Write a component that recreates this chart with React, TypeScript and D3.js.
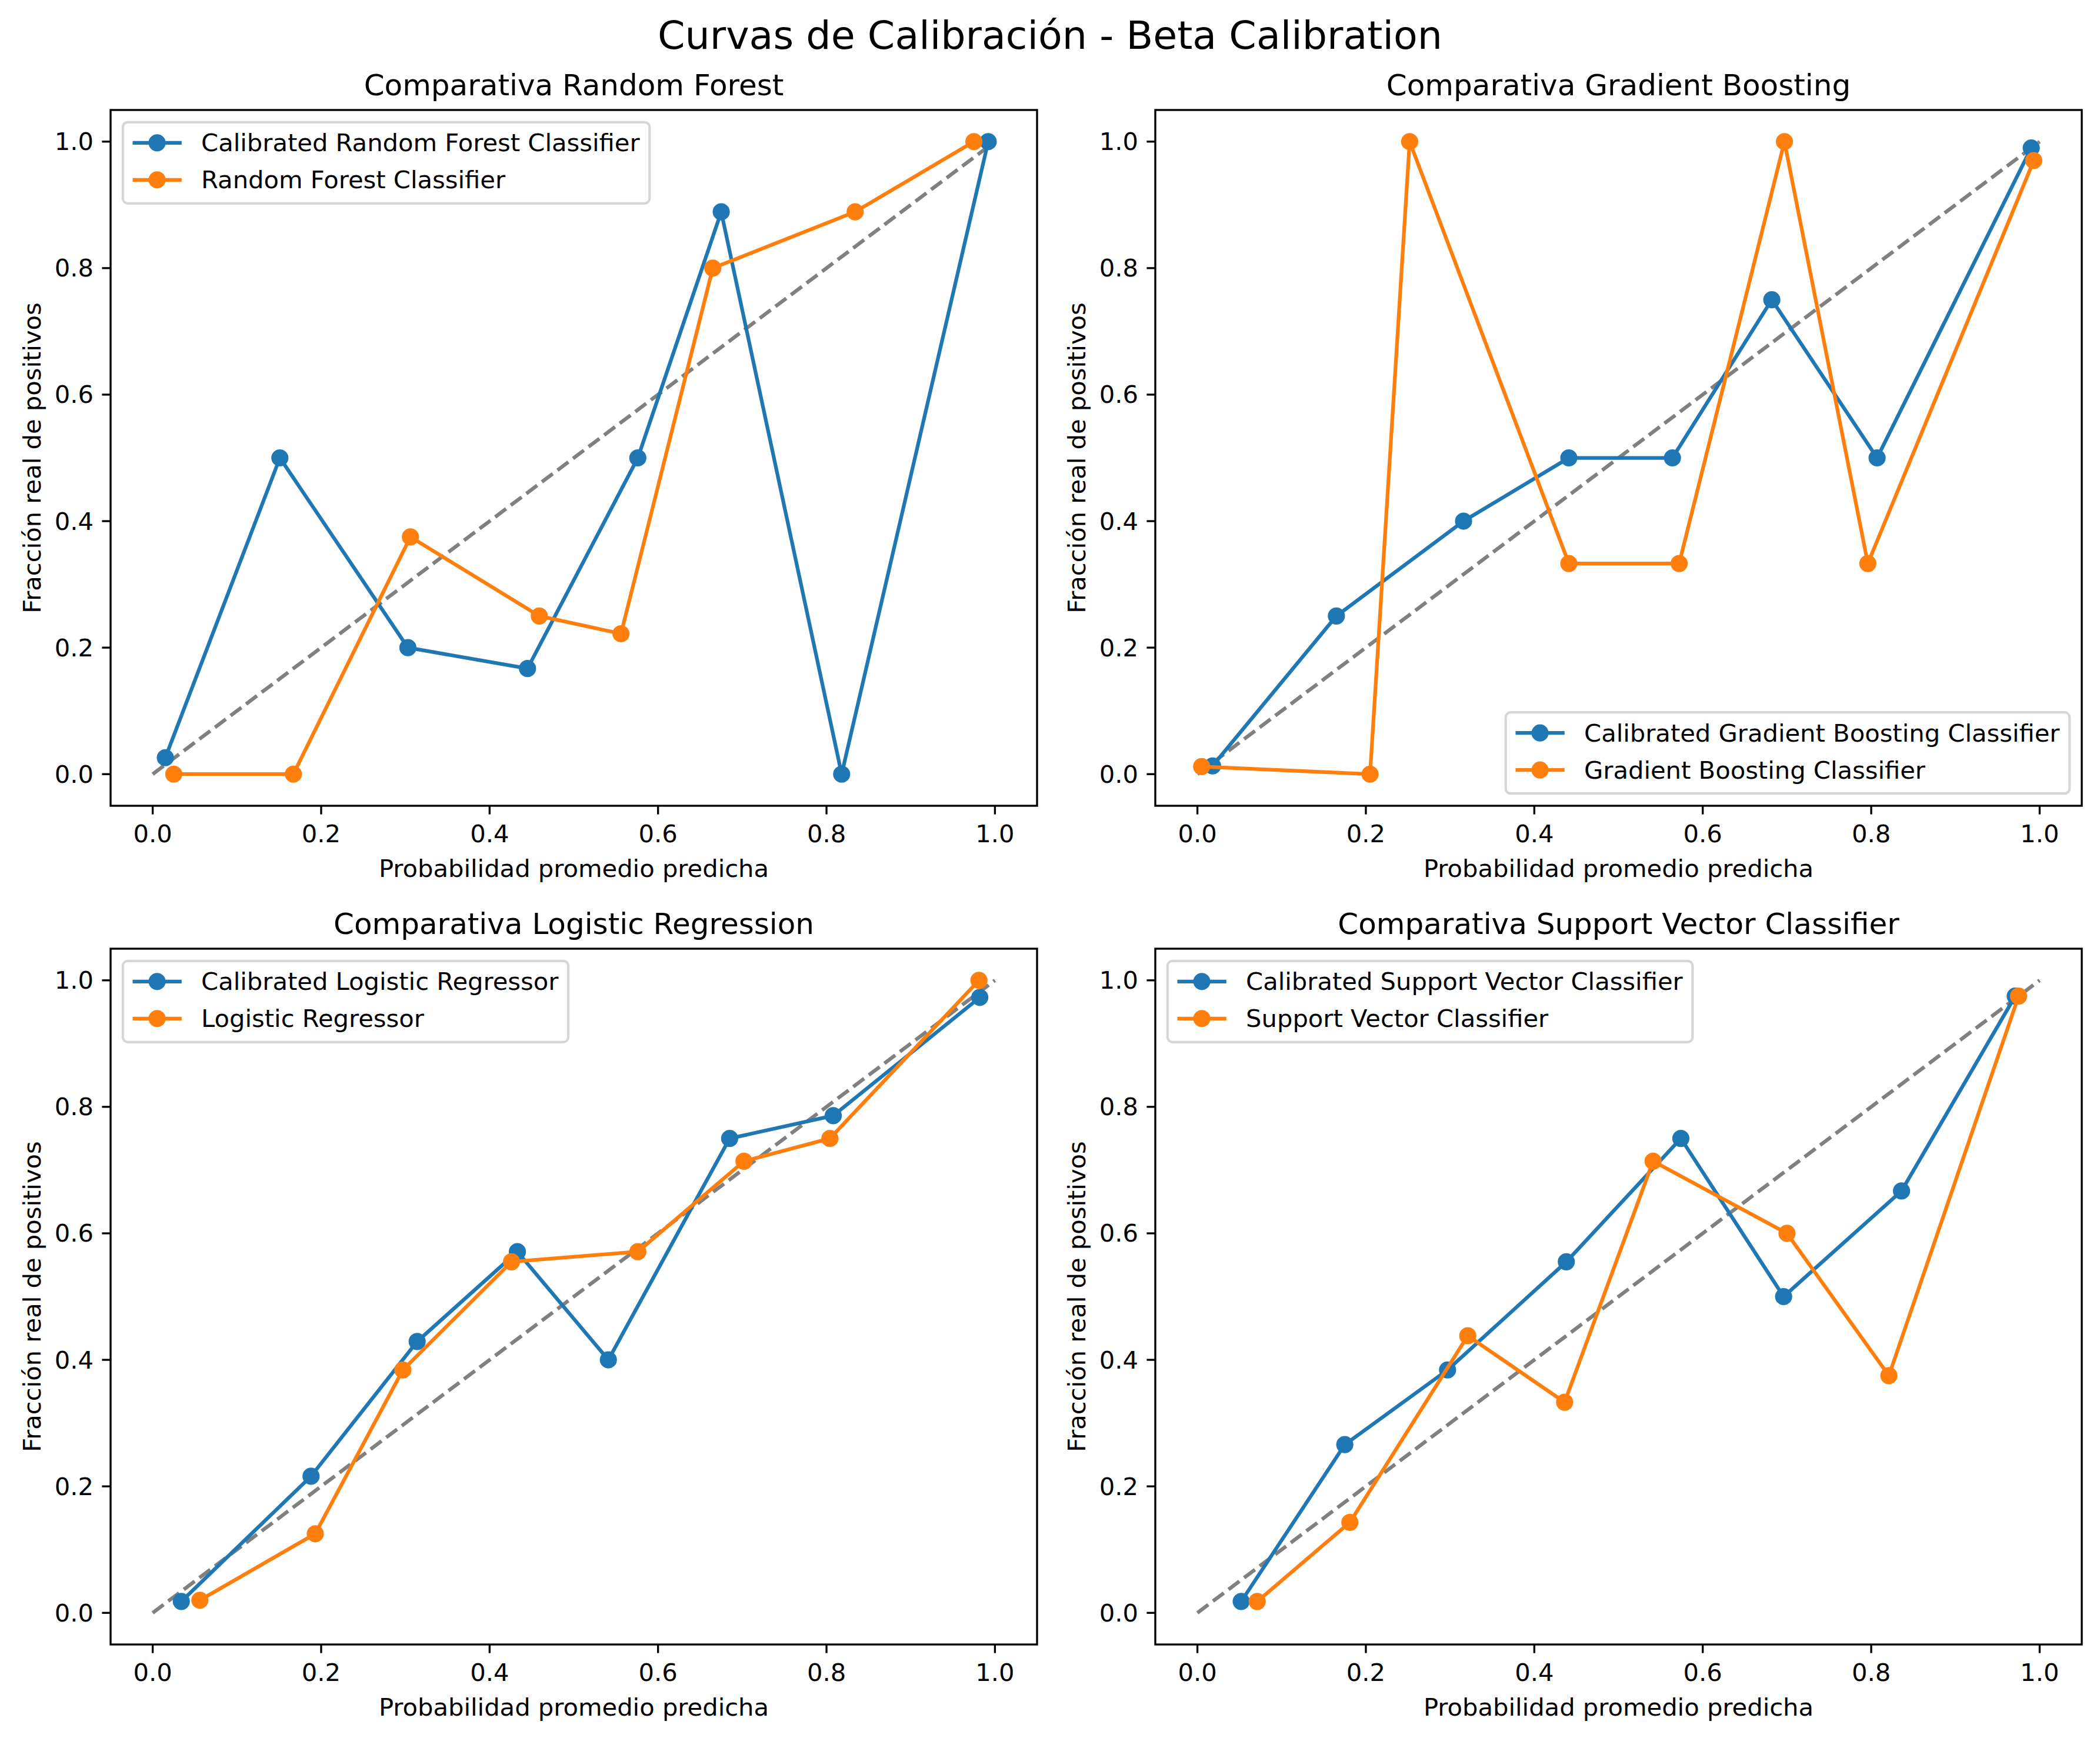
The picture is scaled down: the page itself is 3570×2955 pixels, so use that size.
import React from 'react';
import * as d3 from 'd3';

const suptitle = 'Curvas de Calibración - Beta Calibration';
const xLabel = 'Probabilidad promedio predicha';
const yLabel = 'Fracción real de positivos';
const tickValues = [0, 0.2, 0.4, 0.6, 0.8, 1.0];

const panelTitles = [
  'Comparativa Random Forest',
  'Comparativa Gradient Boosting',
  'Comparativa Logistic Regression',
  'Comparativa Support Vector Classifier',
];
const calibratedNames = [
  'Calibrated Random Forest Classifier',
  'Calibrated Gradient Boosting Classifier',
  'Calibrated Logistic Regressor',
  'Calibrated Support Vector Classifier',
];
const baseNames = [
  'Random Forest Classifier',
  'Gradient Boosting Classifier',
  'Logistic Regressor',
  'Support Vector Classifier',
];
const legendPlaces = ['upper left', 'lower right', 'upper left', 'upper left'];

// mean predicted probability / fraction of positives, per model
const rfCalX = [0.015, 0.151, 0.303, 0.445, 0.576, 0.675, 0.818, 0.992];
const rfCalY = [0.026, 0.5, 0.2, 0.167, 0.5, 0.889, 0.0, 1.0];
const rfX = [0.025, 0.167, 0.306, 0.459, 0.556, 0.665, 0.834, 0.975];
const rfY = [0.0, 0.0, 0.375, 0.25, 0.222, 0.8, 0.889, 1.0];

const gbCalX = [0.018, 0.165, 0.316, 0.441, 0.564, 0.682, 0.807, 0.99];
const gbCalY = [0.013, 0.25, 0.4, 0.5, 0.5, 0.75, 0.5, 0.99];
const gbX = [0.005, 0.205, 0.252, 0.441, 0.572, 0.697, 0.796, 0.993];
const gbY = [0.012, 0.0, 1.0, 0.333, 0.333, 1.0, 0.333, 0.97];

const lrCalX = [0.034, 0.188, 0.314, 0.433, 0.541, 0.685, 0.808, 0.982];
const lrCalY = [0.018, 0.216, 0.429, 0.571, 0.4, 0.75, 0.786, 0.973];
const lrX = [0.056, 0.193, 0.297, 0.426, 0.576, 0.702, 0.804, 0.981];
const lrY = [0.02, 0.125, 0.384, 0.555, 0.571, 0.714, 0.75, 1.0];

const svcCalX = [0.052, 0.175, 0.297, 0.438, 0.574, 0.696, 0.836, 0.971];
const svcCalY = [0.018, 0.266, 0.384, 0.555, 0.75, 0.5, 0.667, 0.975];
const svcX = [0.071, 0.181, 0.321, 0.436, 0.541, 0.7, 0.821, 0.975];
const svcY = [0.018, 0.143, 0.438, 0.333, 0.714, 0.6, 0.375, 0.975];

const calSeries = [[rfCalX, rfCalY], [gbCalX, gbCalY], [lrCalX, lrCalY], [svcCalX, svcCalY]];
const baseSeries = [[rfX, rfY], [gbX, gbY], [lrX, lrY], [svcX, svcY]];

const W = 3570;
const H = 2955;
const FONT = 'DejaVu Sans, sans-serif';
const FS = 41.67;
const BLUE = '#1f77b4';
const ORANGE = '#ff7f0e';
const axLefts = [188, 1964];
const axTops = [187, 1613];
const axW = 1575;
const axH = 1183;

let measureCtx: CanvasRenderingContext2D | null = null;
function textWidth(s: string, size: number) {
  if (!measureCtx) measureCtx = document.createElement('canvas').getContext('2d');
  if (!measureCtx) return s.length * size * 0.55;
  measureCtx.font = `${size}px DejaVu Sans`;
  return measureCtx.measureText(s).width;
}

const Panel = ({ i }: { i: number }) => {
  const left = axLefts[i % 2];
  const top = axTops[Math.floor(i / 2)];
  const x = d3.scaleLinear().domain([-0.05, 1.05]).range([left, left + axW]);
  const y = d3.scaleLinear().domain([-0.05, 1.05]).range([top + axH, top]);
  const line = d3.line<[number, number]>().x(d => x(d[0])).y(d => y(d[1]));

  const series = [
    { xs: calSeries[i][0], ys: calSeries[i][1], color: BLUE, name: calibratedNames[i] },
    { xs: baseSeries[i][0], ys: baseSeries[i][1], color: ORANGE, name: baseNames[i] },
  ];

  // legend box
  const maxText = Math.max(...series.map(s => textWidth(s.name, FS)));
  const lw = 133.3 + maxText + 16.7;
  const lh = 138;
  const pad = 20.8;
  const lx = legendPlaces[i] === 'upper left' ? left + pad : left + axW - pad - lw;
  const ly = legendPlaces[i] === 'upper left' ? top + pad : top + axH - pad - lh;

  return (
    <g>
      <text x={left + axW / 2} y={top - 25} fontSize={50} textAnchor="middle" fontFamily={FONT}>
        {panelTitles[i]}
      </text>
      <path
        d={line([[0, 0], [1, 1]]) || ''}
        stroke="#808080"
        strokeWidth={6.25}
        strokeDasharray="23.1 10"
        fill="none"
      />
      {series.map(s => {
        const pts = s.xs.map((v, k) => [v, s.ys[k]] as [number, number]);
        return (
          <g key={s.name}>
            <path d={line(pts) || ''} stroke={s.color} strokeWidth={6.25} fill="none" strokeLinejoin="round" />
            {pts.map((p, k) => (
              <circle key={k} cx={x(p[0])} cy={y(p[1])} r={12.5} fill={s.color} stroke={s.color} strokeWidth={4.17} />
            ))}
          </g>
        );
      })}
      <rect x={left} y={top} width={axW} height={axH} fill="none" stroke="#000" strokeWidth={3.33} />
      {tickValues.map(t => (
        <g key={'x' + t}>
          <line x1={x(t)} x2={x(t)} y1={top + axH} y2={top + axH + 14.6} stroke="#000" strokeWidth={3.33} />
          <text x={x(t)} y={top + axH + 62} fontSize={FS} textAnchor="middle" fontFamily={FONT}>
            {t.toFixed(1)}
          </text>
        </g>
      ))}
      {tickValues.map(t => (
        <g key={'y' + t}>
          <line x1={left - 14.6} x2={left} y1={y(t)} y2={y(t)} stroke="#000" strokeWidth={3.33} />
          <text x={left - 29} y={y(t) + 14.5} fontSize={FS} textAnchor="end" fontFamily={FONT}>
            {t.toFixed(1)}
          </text>
        </g>
      ))}
      <text x={left + axW / 2} y={top + axH + 121} fontSize={FS} textAnchor="middle" fontFamily={FONT}>
        {xLabel}
      </text>
      <text
        transform={`translate(${left - 119}, ${top + axH / 2}) rotate(-90)`}
        fontSize={FS}
        textAnchor="middle"
        fontFamily={FONT}
      >
        {yLabel}
      </text>
      <g>
        <rect
          x={lx}
          y={ly}
          width={lw}
          height={lh}
          rx={8.3}
          fill="#fff"
          fillOpacity={0.8}
          stroke="#cccccc"
          strokeOpacity={0.8}
          strokeWidth={4.17}
        />
        {series.map((s, k) => {
          const cy = ly + 35 + k * 63;
          return (
            <g key={'lg' + k}>
              <line x1={lx + 16.7} x2={lx + 100} y1={cy} y2={cy} stroke={s.color} strokeWidth={6.25} />
              <circle cx={lx + 58.3} cy={cy} r={12.5} fill={s.color} stroke={s.color} strokeWidth={4.17} />
              <text x={lx + 133.3} y={cy + 14.5} fontSize={FS} fontFamily={FONT}>
                {s.name}
              </text>
            </g>
          );
        })}
      </g>
    </g>
  );
};

export default function App() {
  return (
    <svg
      width={W}
      height={H}
      viewBox={`0 0 ${W} ${H}`}
      style={{ position: 'absolute', left: 0, top: 0, background: '#fff' }}
    >
      <rect x={0} y={0} width={W} height={H} fill="#fff" />
      <text x={W / 2} y={83} fontSize={66.67} textAnchor="middle" fontFamily={FONT}>
        {suptitle}
      </text>
      {[0, 1, 2, 3].map(i => (
        <Panel key={i} i={i} />
      ))}
    </svg>
  );
}
